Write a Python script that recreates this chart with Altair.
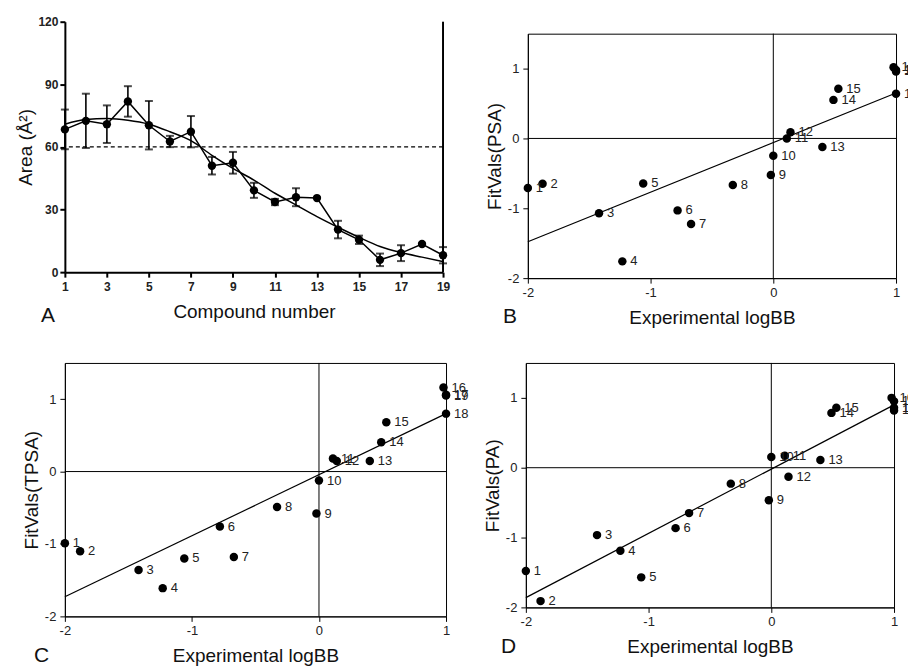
import altair as alt
import pandas as pd

# ---------------- data ----------------
compounds = list(range(1, 20))
area_mean = [68.4, 72.5, 70.9, 81.8, 70.4, 62.6, 67.3, 51.0, 52.4, 39.2,
             33.6, 35.9, 35.5, 20.4, 15.5, 5.9, 9.1, 13.5, 8.1]
area_err = [9.5, 13.0, 9.0, 7.3, 11.6, 2.7, 7.5, 4.2, 5.2, 3.6,
            1.5, 4.3, 0.0, 4.2, 2.0, 3.0, 3.8, 0.0, 3.9]
area_fit = [70.9, 73.1, 73.6, 72.8, 70.9, 67.3, 63.0, 56.0, 49.7, 44.1,
            37.8, 32.2, 26.6, 21.5, 16.7, 12.3, 9.4, 7.2, 5.1]
threshold = [60]

logbb = [-2.0, -1.88, -1.42, -1.23, -1.06, -0.78, -0.67, -0.33, -0.02, 0.0,
         0.11, 0.14, 0.40, 0.49, 0.53, 0.98, 1.0, 1.0, 1.0]
fit_psa = [-0.71, -0.65, -1.07, -1.76, -0.645, -1.03, -1.225, -0.667, -0.524, -0.248,
           0.0, 0.09, -0.124, 0.552, 0.71, 1.02, 0.98, 0.64, 0.96]
fit_tpsa = [-0.99, -1.10, -1.36, -1.61, -1.20, -0.76, -1.18, -0.49, -0.58, -0.124,
            0.18, 0.147, 0.147, 0.405, 0.68, 1.16, 1.06, 0.80, 1.05]
fit_pa = [-1.48, -1.91, -0.965, -1.19, -1.57, -0.865, -0.65, -0.228, -0.467, 0.153,
          0.172, -0.128, 0.11, 0.785, 0.857, 1.0, 0.95, 0.82, 0.86]

reg_x = [-2, 1]
reg_psa = [-1.48, 0.65]
reg_tpsa = [-1.73, 0.80]
reg_pa = [-1.86, 0.90]

FONT = "Liberation Sans"


def letter_layer(letter, x, y):
    return alt.Chart(pd.DataFrame({"t": [letter]})).mark_text(
        align="left", baseline="alphabetic", fontSize=21, font=FONT, color="#111"
    ).encode(text="t:N", x=alt.value(x), y=alt.value(y))


# ---------------- panel A ----------------
dfa = pd.DataFrame({
    "n": compounds,
    "mean": area_mean,
    "lo": [m - e for m, e in zip(area_mean, area_err)],
    "hi": [m + e for m, e in zip(area_mean, area_err)],
    "fit": area_fit,
})
xA = alt.Scale(domain=[1, 19], nice=False, zero=False)
yA = alt.Scale(domain=[0, 120], nice=False)
axA_x = alt.Axis(values=compounds, title="Compound number", labelFontWeight="bold",
                 labelFontSize=12, domainWidth=2, tickWidth=2, tickSize=5,
                 labelPadding=4, titlePadding=10, labelFlush=False, labelOverlap=False)
axA_y = alt.Axis(values=[0, 30, 60, 90, 120], title="Area (Å²)", labelFontWeight="bold",
                 labelFontSize=12, domainWidth=2, tickWidth=2, tickSize=5,
                 labelPadding=2, titlePadding=2, labelOverlap=False)
baseA = alt.Chart(dfa)
errA = baseA.mark_rule(color="black", strokeWidth=1.6).encode(
    x=alt.X("n:Q", scale=xA, axis=axA_x), y=alt.Y("lo:Q", scale=yA, axis=axA_y), y2="hi:Q")
capHi = baseA.mark_tick(color="black", orient="horizontal", size=8, thickness=2).encode(
    x="n:Q", y="hi:Q")
capLo = baseA.mark_tick(color="black", orient="horizontal", size=8, thickness=2).encode(
    x="n:Q", y="lo:Q")
lineA = baseA.mark_line(color="black", strokeWidth=1.5).encode(x="n:Q", y="mean:Q")
fitA = baseA.mark_line(color="black", strokeWidth=1.5, interpolate="monotone").encode(
    x="n:Q", y="fit:Q")
dashA = alt.Chart(pd.DataFrame({"v": threshold})).mark_rule(
    color="black", strokeWidth=1.3, strokeDash=[4, 3]).encode(y=alt.Y("v:Q"))
ptsA = baseA.mark_circle(size=70, color="black", opacity=1).encode(x="n:Q", y="mean:Q")
borderA = alt.Chart(pd.DataFrame({"v": [19]})).mark_rule(color="black", strokeWidth=2).encode(
    x=alt.X("v:Q"))
panelA = alt.layer(
    errA, capHi, capLo, dashA, fitA, lineA, ptsA, borderA,
    letter_layer("A", -24, 301),
).properties(width=379, height=251, view=alt.ViewBackground(strokeOpacity=0))


# ---------------- scatter panels ----------------
def scatter_panel(yvals, reg, ytitle, letter, w, h, letter_x, letter_y):
    df = pd.DataFrame({"x": logbb, "y": yvals, "label": [str(c) for c in compounds]})
    xs = alt.Scale(domain=[-2, 1], nice=False, zero=False)
    ys = alt.Scale(domain=[-2, 1.5], nice=False, zero=False)
    xax = alt.Axis(values=[-2, -1, 0, 1], title="Experimental logBB",
                   labelExpr="'' + datum.value", tickSize=5, labelPadding=3,
                   titlePadding=9, labelFlush=False, labelOverlap=False)
    yax = alt.Axis(values=[-2, -1, 0, 1], title=ytitle,
                   labelExpr="'' + datum.value", tickSize=5, labelPadding=4,
                   titlePadding=3, labelOverlap=False)
    base = alt.Chart(df)
    hline = alt.Chart(pd.DataFrame({"v": [0]})).mark_rule(color="black", strokeWidth=1).encode(
        y=alt.Y("v:Q", scale=ys, axis=yax))
    vline = alt.Chart(pd.DataFrame({"v": [0]})).mark_rule(color="black", strokeWidth=1).encode(
        x=alt.X("v:Q", scale=xs, axis=xax))
    regline = alt.Chart(pd.DataFrame({"v": reg_x, "r": reg})).mark_line(
        color="black", strokeWidth=1.2).encode(x="v:Q", y="r:Q")
    pts = base.mark_circle(size=72, color="black", opacity=1).encode(x="x:Q", y="y:Q")
    labels = base.mark_text(align="left", baseline="middle", dx=8, fontSize=13,
                            font=FONT, color="#222").encode(x="x:Q", y="y:Q", text="label:N")
    return alt.layer(
        hline, vline, regline, pts, labels, letter_layer(letter, letter_x, letter_y)
    ).properties(width=w, height=h, view=alt.ViewBackground(stroke="black", strokeWidth=1))


panelB = scatter_panel(fit_psa, reg_psa, "FitVals(PSA)", "B", 369, 245, -25, 290)
panelC = scatter_panel(fit_tpsa, reg_tpsa, "FitVals(TPSA)", "C", 382, 254, -31, 300)
panelD = scatter_panel(fit_pa, reg_pa, "FitVals(PA)", "D", 369, 245, -25, 291)

# an empty strip that pushes panel B a little lower than panel A
spacerB = alt.Chart(pd.DataFrame({"v": [0]})).mark_rule(opacity=0).encode(
    y=alt.Y("v:Q", axis=None)
).properties(width=369, height=1, view=alt.ViewBackground(strokeOpacity=0))
colB = alt.vconcat(spacerB, panelB, spacing=10)

row1 = alt.hconcat(panelA, colB, spacing=34)
row2 = alt.hconcat(panelC, panelD, spacing=13)
chart = alt.vconcat(row1, row2, spacing=34).properties(
    padding={"left": 8, "top": 7, "right": -11, "bottom": 0}
).configure_axis(
    labelFont=FONT, titleFont=FONT, labelFontSize=13, titleFontSize=19,
    titleFontWeight="normal", labelColor="#222", titleColor="#111",
    domainColor="black", tickColor="black", grid=False,
).configure_text(font=FONT)

chart.save("out.html", embed_options={"renderer": "svg", "actions": False})
